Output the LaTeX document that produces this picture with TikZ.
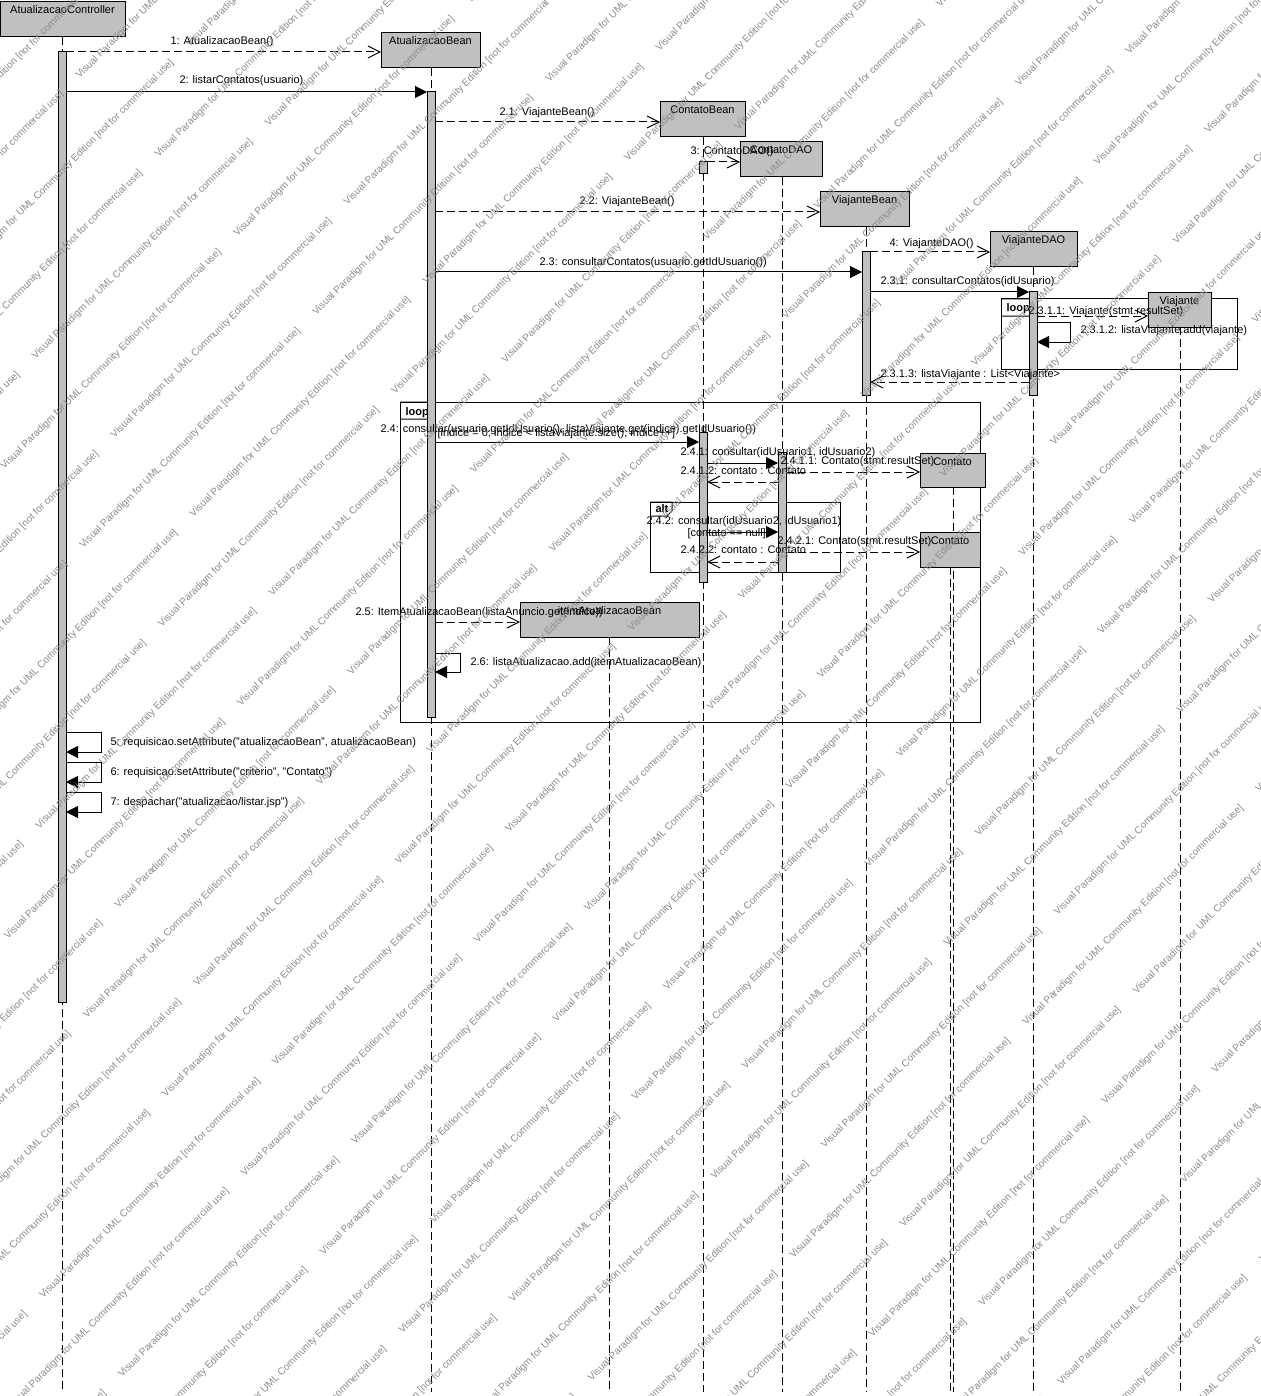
\documentclass[tikz,border=0pt]{standalone}
\usepackage{fontspec}
\setmainfont{Liberation Sans}
\usetikzlibrary{arrows.meta}
\definecolor{vpgray}{RGB}{192,192,192}
\definecolor{wmgray}{RGB}{140,140,140}
\tikzset{
  lifebox/.style={draw=black, fill=vpgray, inner sep=0pt, outer sep=0pt},
  actbar/.style={draw=black, fill=vpgray, inner sep=0pt, outer sep=0pt},
  lifeline/.style={dash pattern=on 8pt off 4pt},
  syncmsg/.style={-{Triangle[length=12pt,width=12pt]}},
  asyncmsg/.style={dash pattern=on 8pt off 4pt, -{Straight Barb[length=12pt,width=12pt]}},
  retmsg/.style={dash pattern=on 8pt off 4pt, -{Straight Barb[length=12pt,width=12pt]}},
  lbl/.style={inner sep=0pt, anchor=base west},
  headtxt/.style={inner sep=0pt, anchor=base},
  umlfr/.style={draw=black, inner sep=0pt, outer sep=0pt},
  tabtxt/.style={inner sep=0pt, anchor=base west, font=\fontsize{11pt}{13pt}\selectfont\bfseries},
  wm/.style={inner sep=0pt, anchor=west, rotate=45, text=wmgray, font=\fontsize{10pt}{12pt}\selectfont},
}
% name, x1, y1, x2, y2, text, lifeline x
\newcommand\lifehead[7]{%
  \coordinate (#1-end) at (#7,1392);
  \draw[lifeline] (#7,#5) -- (#1-end);
  \node[lifebox, minimum width={(#4)-(#2)}, minimum height={(#5)-(#3)}] (#1) at ({((#2)+(#4))/2},{((#3)+(#5))/2}) {};
  \node[headtxt] (#1-t) at ({((#2)+(#4))/2},{(#3)+12}) {#6};
}
% name, x1, y1, x2, y2
\newcommand\abar[5]{%
  \node[actbar, minimum width={(#4)-(#2)}, minimum height={(#5)-(#3)}] (#1) at ({((#2)+(#4))/2},{((#3)+(#5))/2}) {};
}
% style, name, from, to, y
\newcommand\msg[5]{%
  \coordinate (#2) at (0,#5);
  \draw[#1] (#3 |- #2) -- (#4 |- #2);
}
% name, bar, y1, y2, x
\newcommand\selfmsg[5]{%
  \coordinate (#1-a) at (#5,#3);
  \coordinate (#1-b) at (#5,#4);
  \draw[syncmsg] (#2.east |- #1-a) -- (#1-a) -- (#1-b) -- (#2.east |- #1-b);
}
% name, x1, y1, x2, y2, tabw, tabh, text
\newcommand\umlframe[8]{%
  \node[umlfr, minimum width={(#4)-(#2)}, minimum height={(#5)-(#3)}] (#1) at ({((#2)+(#4))/2},{((#3)+(#5))/2}) {};
  \draw (#1.north west) -- ++(#6,0) -- ++(0,{(#7)-5}) -- ++(-5,5) -- ++({5-(#6)},0);
  \node[tabtxt] (#1-t) at ([xshift=5pt,yshift={-((#7)-4)*1pt}]#1.north west) {#8};
}
\begin{document}
\begin{tikzpicture}[x=1pt,y=-1pt,line width=1pt,font=\fontsize{11pt}{13pt}\selectfont]
\useasboundingbox[fill=white] (0,0) rectangle (1260,1396);

% frames
\umlframe{loopA}{400}{402}{980}{722}{33}{17}{loop}
\umlframe{loopB}{1001}{299}{1237}{369}{33}{17}{loop}
\umlframe{altA}{650}{502}{840}{572}{22}{14}{alt}

% lifeline heads
\lifehead{ctrl}{0}{2}{125}{37}{AtualizacaoController}{62}
\lifehead{atb}{381}{33}{480}{68}{AtualizacaoBean}{431}
\lifehead{cb}{660}{102}{745}{137}{ContatoBean}{703}
\lifehead{cdao}{740}{142}{822}{177}{ContatoDAO}{782}
\lifehead{vb}{820}{192}{909}{227}{ViajanteBean}{866}
\lifehead{vdao}{990}{232}{1077}{267}{ViajanteDAO}{1033}
\lifehead{via}{1148}{293}{1211}{327}{Viajante}{1180}
\lifehead{ctA}{920}{453}{985}{487}{Contato}{953}
\lifehead{ctB}{920}{532}{980}{567}{Contato}{950}
\lifehead{item}{520}{602}{699}{637}{itemAtualizacaoBean}{609}

% activation bars
\abar{bctrl}{58}{52}{66}{1002}
\abar{batb}{427}{92}{435}{717}
\abar{bcbA}{699}{162}{707}{174}
\abar{bvb}{862}{252}{870}{395}
\abar{bvdao}{1029}{292}{1037}{395}
\abar{bcbB}{699}{432}{707}{582}
\abar{bcdao}{778}{452}{786}{572}

% messages
\msg{asyncmsg}{m1}{bctrl.east}{atb.west}{52}
\msg{syncmsg}{m2}{bctrl.east}{batb.west}{92}
\msg{asyncmsg}{m3}{batb.east}{cb.west}{122}
\msg{asyncmsg}{m4}{bcbA.east}{cdao.west}{162}
\msg{asyncmsg}{m5}{batb.east}{vb.west}{212}
\msg{syncmsg}{m6}{batb.east}{bvb.west}{272}
\msg{asyncmsg}{m7}{bvb.east}{vdao.west}{252}
\msg{syncmsg}{m8}{bvb.east}{bvdao.west}{292}
\msg{asyncmsg}{m9}{bvdao.east}{via.west}{316}
\selfmsg{s10}{bvdao}{322}{342}{1070}
\msg{retmsg}{m11}{bvdao.west}{bvb.east}{382}
\msg{syncmsg}{m12}{batb.east}{bcbB.west}{442}
\msg{syncmsg}{m13}{bcbB.east}{bcdao.west}{463}
\msg{asyncmsg}{m14}{bcdao.east}{ctA.west}{472}
\msg{retmsg}{m15}{bcdao.west}{bcbB.east}{482}
\msg{syncmsg}{m16}{bcbB.east}{bcdao.west}{532}
\msg{asyncmsg}{m17}{bcdao.east}{ctB.west}{552}
\msg{retmsg}{m18}{bcdao.west}{bcbB.east}{562}
\msg{asyncmsg}{m19}{batb.east}{item.west}{622}
\selfmsg{s20}{batb}{653}{672}{460}
\selfmsg{s21}{bctrl}{732}{752}{101}
\selfmsg{s22}{bctrl}{762}{782}{101}
\selfmsg{s23}{bctrl}{792}{812}{101}

% labels
\node[lbl] (l1) at (170,45) {1: AtualizacaoBean()};
\node[lbl] (l2) at (179,84) {2: listarContatos(usuario)};
\node[lbl] (l3) at (499,116) {2.1: ViajanteBean()};
\node[lbl] (l4) at (690,155) {3: ContatoDAO()};
\node[lbl] (l5) at (579,205) {2.2: ViajanteBean()};
\node[lbl] (l6) at (539,266) {2.3: consultarContatos(usuario.getIdUsuario())};
\node[lbl] (l7) at (889,247) {4: ViajanteDAO()};
\node[lbl] (l8) at (880,285) {2.3.1: consultarContatos(idUsuario)};
\node[lbl] (l9) at (1028,314) {2.3.1.1: Viajante(stmt.resultSet)};
\node[lbl] (l10) at (1080,334) {2.3.1.2: listaViajante.add(viajante)};
\node[lbl] (l11) at (880,377) {2.3.1.3: listaViajante : List<Viajante>};
\node[lbl] (l12) at (380,432) {2.4: consultar(usuario.getIdUsuario(), listaViajante.get(indice).getIdUsuario())};
\node[lbl] (g1) at (437,436) {[indice = 0; indice < listaViajante.size(); indice++]};
\node[lbl] (l13) at (680,455) {2.4.1: consultar(idUsuario1, idUsuario2)};
\node[lbl] (l14) at (780,464) {2.4.1.1: Contato(stmt.resultSet)};
\node[lbl] (l15) at (680,474) {2.4.1.2: contato : Contato};
\node[lbl] (l16) at (646,524) {2.4.2: consultar(idUsuario2, idUsuario1)};
\node[lbl] (g2) at (687,536) {[contato == null]};
\node[lbl] (l17) at (777,544) {2.4.2.1: Contato(stmt.resultSet)};
\node[lbl] (l18) at (680,553) {2.4.2.2: contato : Contato};
\node[lbl] (l19) at (355,615) {2.5: ItemAtualizacaoBean(listaAnuncio.get(indice))};
\node[lbl] (l20) at (470,665) {2.6: listaAtualizacao.add(itemAtualizacaoBean)};
\node[lbl] (l21) at (110,745) {5: requisicao.setAttribute("atualizacaoBean", atualizacaoBean)};
\node[lbl] (l22) at (110,775) {6: requisicao.setAttribute("criterio", "Contato")};
\node[lbl] (l23) at (110,805) {7: despachar("atualizacao/listar.jsp")};

% watermark
\begin{scope}
\clip (0,0) rectangle (1260,1396);
\foreach \j in {-8,...,11}{
  \foreach \m in {-4,...,3}{
    \pgfmathsetmacro\sA{1101.7+157.8*\j}
    \pgfmathsetmacro\dA{466*\m}
    \node[wm] (wmA\j\m) at ({(\sA+\dA)/2},{(\sA-\dA)/2}) {Visual Paradigm for UML Community Edition [not for commercial use]};
    \pgfmathsetmacro\sB{1180.6+157.8*\j}
    \pgfmathsetmacro\dB{141.7+466*\m}
    \node[wm] (wmB\j\m) at ({(\sB+\dB)/2},{(\sB-\dB)/2}) {Visual Paradigm for UML Community Edition [not for commercial use]};
  }
}
\end{scope}
\end{tikzpicture}
\end{document}
